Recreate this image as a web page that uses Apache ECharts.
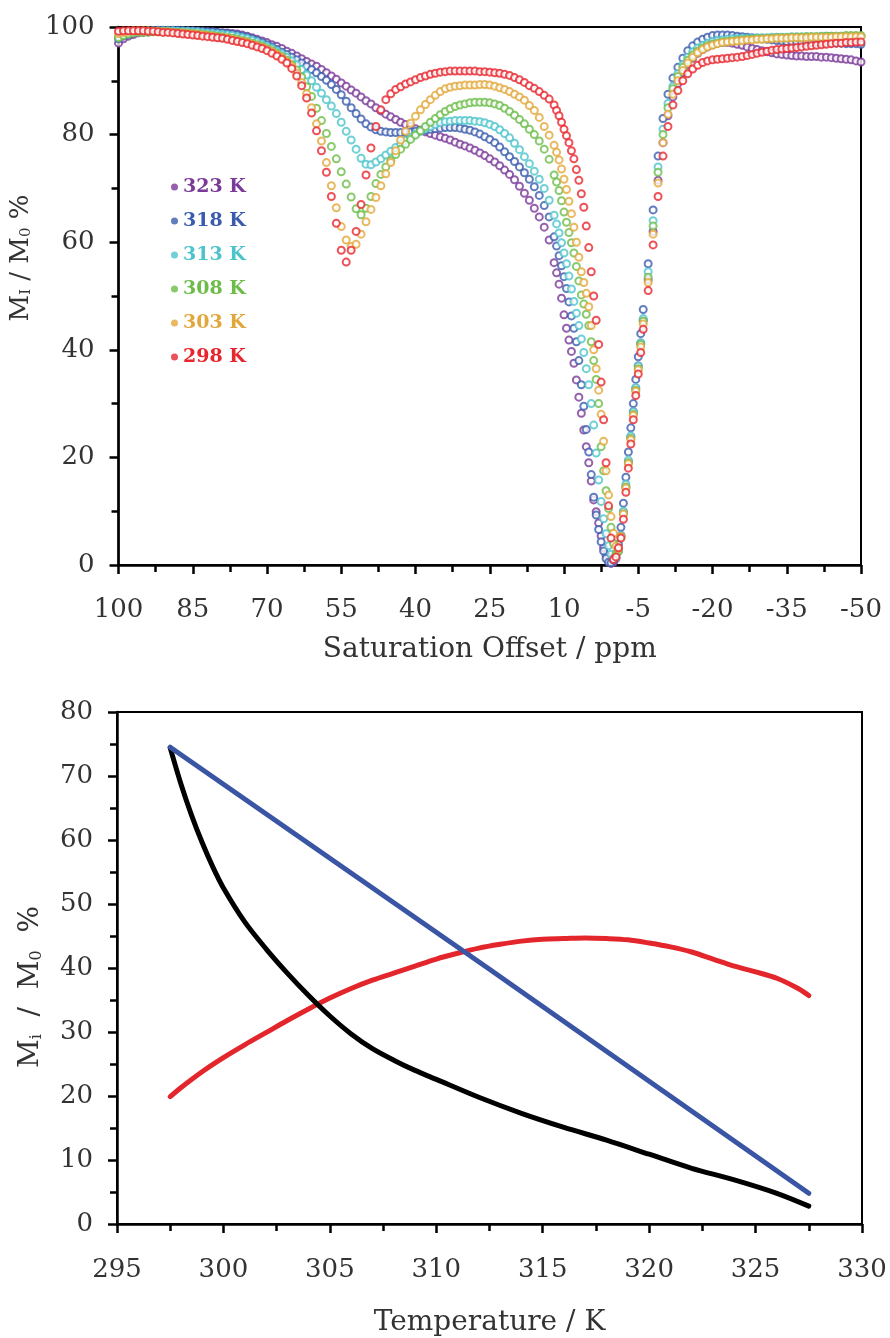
<!DOCTYPE html>
<html>
<head>
<meta charset="utf-8">
<script src="https://cdn.jsdelivr.net/npm/echarts@6/dist/echarts.min.js"></script>
<style>
  html, body { margin: 0; padding: 0; background: #fff; }
  #chart { width: 890px; height: 1338px; }
</style>
</head>
<body>
<div id="chart"></div>
<script>
// ---- top panel: saturation offset (ppm) vs M_I/M_0 (%) ----
const offsetsFlatLeft = [100, 99, 98, 97, 96, 95, 94, 93, 92, 91, 90, 89, 88, 87, 86, 85, 84, 83, 82, 81,
  80, 79, 78, 77, 76, 75, 74, 73, 72, 71, 70, 69, 68, 67, 66, 65, 64, 63, 62, 61,
  60, 59, 58, 57, 56, 55, 54, 53, 52, 51, 50, 49, 48, 47, 46, 45, 44, 43, 42, 41,
  40, 39, 38, 37, 36, 35, 34, 33, 32, 31, 30, 29, 28, 27, 26, 25, 24, 23, 22, 21,
  20, 19, 18, 17, 16, 15, 14, 13]
const offsetsDip = [12, 11.5, 11, 10.5, 10, 9.5, 9, 8.5, 8, 7.5, 7, 6.5, 6, 5.5, 5, 4.5, 4, 3.5, 3, 2.5,
  2, 1.5, 1, 0.5, 0, -0.5, -1, -1.5, -2, -2.5, -3, -3.5, -4, -4.5, -5, -5.5, -6]
const offsetsFlatRight = [-7, -8, -9, -10, -11, -12, -13, -14, -15, -16, -17, -18, -19, -20, -21, -22,
  -23, -24, -25, -26, -27, -28, -29, -30, -31, -32, -33, -34, -35, -36, -37, -38, -39, -40,
  -41, -42, -43, -44, -45, -46, -47, -48, -49, -50]
const offsets = offsetsFlatLeft.concat(offsetsDip, offsetsFlatRight)

const temps = ['323 K', '318 K', '313 K', '308 K', '303 K', '298 K']
const colors = ['#7b3a98', '#3b5cae', '#4cc4cc', '#6cbd48', '#e2a73a', '#e8262e']

const k323 = [
  97.0, 97.8, 98.3, 98.6, 98.9, 99.0, 99.1, 99.2, 99.2, 99.3,
  99.3, 99.3, 99.3, 99.3, 99.2, 99.2, 99.2, 99.1, 99.1, 99.0,
  99.0, 98.9, 98.9, 98.8, 98.7, 98.5, 98.3, 98.0, 97.7, 97.4,
  97.1, 96.7, 96.4, 96.0, 95.5, 95.1, 94.6, 94.1, 93.6, 93.1,
  92.7, 92.1, 91.5, 90.9, 90.3, 89.6, 89.0, 88.3, 87.7, 87.0,
  86.3, 85.7, 85.0, 84.4, 83.8, 83.3, 82.8, 82.3, 81.9, 81.5,
  81.1, 80.8, 80.5, 80.2, 79.9, 79.6, 79.3, 79.0, 78.6, 78.2,
  77.9, 77.5, 77.1, 76.6, 76.1, 75.5, 74.9, 74.2, 73.4, 72.6,
  71.6, 70.4, 69.1, 67.8, 66.3, 64.7, 62.8, 60.4,
  56.2, 54.3, 52.2, 49.6, 46.5, 44.0, 41.8, 39.7, 37.5, 34.4,
  31.2, 28.2, 25.1, 22.0, 19.0, 15.6, 12.1, 9.9, 7.8, 5.4,
  3.2, 1.8, 0.8, 0.3, 0.5, 1.2, 2.6, 5.5, 9.8, 14.5,
  19.2, 23.8, 28.5, 32.8, 37.0, 41.2, 45.5,
  53, 62, 71.5, 78.5, 83.5, 87, 89.5, 91.5, 93, 94.2,
  95.1, 95.8, 96.3, 96.7, 97.0, 97.1, 97.1, 97.0, 96.8, 96.6,
  96.3, 96.0, 95.8, 95.6, 95.4, 95.2, 95.0, 94.9, 94.8, 94.7,
  94.6, 94.6, 94.5, 94.5, 94.5, 94.4, 94.4, 94.3, 94.2, 94.1,
  94.0, 93.9, 93.7, 93.5]
const k318 = [
  97.8, 98.3, 98.6, 98.9, 99.1, 99.2, 99.3, 99.3, 99.4, 99.4,
  99.4, 99.4, 99.4, 99.3, 99.3, 99.3, 99.2, 99.2, 99.1, 99.1,
  99.0, 98.9, 98.8, 98.6, 98.5, 98.3, 98.1, 97.8, 97.5, 97.1,
  96.7, 96.3, 95.8, 95.3, 94.9, 94.4, 93.9, 93.3, 92.7, 92.1,
  91.5, 90.8, 90.1, 89.3, 88.4, 87.4, 86.2, 85.0, 83.9, 82.9,
  82.0, 81.4, 80.9, 80.6, 80.5, 80.4, 80.4, 80.4, 80.4, 80.5,
  80.6, 80.7, 80.8, 81.0, 81.1, 81.2, 81.3, 81.3, 81.3, 81.2,
  81.0, 80.8, 80.5, 80.1, 79.6, 79.1, 78.5, 77.7, 76.8, 75.9,
  75.0, 74.0, 72.9, 71.7, 70.3, 68.7, 66.8, 64.7,
  61.0, 59.3, 57.5, 55.6, 53.6, 51.4, 48.9, 46.3, 44.0, 41.5,
  38.0, 33.5, 29.5, 25.2, 21.0, 16.8, 12.6, 9.3, 6.6, 4.3,
  2.6, 1.2, 0.5, 0.4, 0.9, 2.0, 3.8, 7.0, 11.5, 16.3,
  21.0, 25.5, 30.0, 34.5, 38.7, 43.0, 47.5,
  56, 66, 76, 83, 87.5, 90.5, 92.5, 94.2, 95.6, 96.5,
  97.2, 97.7, 98.1, 98.4, 98.5, 98.5, 98.5, 98.4, 98.3, 98.2,
  98.1, 98.0, 97.9, 97.8, 97.7, 97.6, 97.5, 97.4, 97.3, 97.3,
  97.2, 97.2, 97.2, 97.1, 97.1, 97.1, 97.0, 97.0, 97.0, 97.0,
  96.9, 96.9, 96.9, 96.8]
const k313 = [
  98.3, 98.6, 98.8, 99.0, 99.1, 99.2, 99.2, 99.3, 99.3, 99.3,
  99.3, 99.3, 99.2, 99.2, 99.2, 99.1, 99.1, 99.0, 98.9, 98.8,
  98.7, 98.6, 98.5, 98.4, 98.2, 98.0, 97.8, 97.5, 97.2, 96.8,
  96.4, 96.0, 95.5, 95.0, 94.4, 93.7, 93.0, 92.1, 91.1, 90.0,
  88.8, 87.7, 86.5, 85.3, 83.9, 82.3, 80.6, 79.0, 77.3, 75.6,
  74.5, 74.4, 74.9, 75.5, 76.2, 76.9, 77.6, 78.3, 78.9, 79.5,
  80.1, 80.6, 81.1, 81.5, 81.9, 82.2, 82.4, 82.5, 82.6, 82.6,
  82.6, 82.6, 82.5, 82.4, 82.2, 81.9, 81.5, 80.9, 80.2, 79.4,
  78.4, 77.2, 75.9, 74.6, 73.2, 71.7, 70.0, 67.8,
  65.0, 63.4, 61.7, 59.9, 58.0, 56.0, 53.7, 51.3, 49.0, 46.8,
  44.5, 42.0, 39.5, 36.5, 33.5, 30.0, 26.0, 20.8, 15.8, 11.8,
  8.6, 5.8, 3.6, 2.0, 1.2, 1.4, 2.8, 5.5, 10.0, 15.0,
  19.5, 24.0, 28.5, 33.0, 37.0, 41.3, 45.8,
  54.5, 64, 74, 81, 85.8, 89, 91.3, 93, 94.4, 95.4,
  96.1, 96.6, 97.0, 97.3, 97.5, 97.6, 97.7, 97.8, 97.8, 97.9,
  97.9, 97.9, 98.0, 98.0, 98.0, 98.1, 98.1, 98.1, 98.1, 98.2,
  98.2, 98.2, 98.2, 98.2, 98.2, 98.3, 98.3, 98.3, 98.3, 98.3,
  98.3, 98.3, 98.3, 98.3]
const k308 = [
  98.0, 98.4, 98.7, 98.9, 99.0, 99.0, 99.0, 99.1, 99.1, 99.1,
  99.1, 99.0, 99.0, 98.9, 98.9, 98.8, 98.7, 98.6, 98.5, 98.4,
  98.3, 98.2, 98.0, 97.9, 97.7, 97.5, 97.3, 97.0, 96.7, 96.4,
  96.0, 95.6, 95.1, 94.5, 93.8, 93.0, 92.0, 90.7, 88.9, 87.1,
  84.9, 82.6, 80.2, 77.8, 75.5, 73.1, 70.8, 68.4, 66.2, 65.1,
  66.3, 68.5, 70.9, 72.6, 74.0, 75.2, 76.3, 77.3, 78.2, 79.1,
  79.9, 80.7, 81.5, 82.3, 83.0, 83.7, 84.3, 84.8, 85.2, 85.5,
  85.7, 85.9, 86.0, 86.0, 86.0, 85.9, 85.7, 85.4, 84.9, 84.3,
  83.6, 82.8, 82.0, 81.0, 80.0, 78.8, 77.3, 75.4,
  72.5, 71.2, 69.6, 67.7, 65.6, 63.7, 61.8, 59.9, 58.0, 55.5,
  52.8, 50.2, 48.5, 46.6, 44.5, 41.5, 38.0, 34.5, 30.0, 22.0,
  17.5, 13.8, 10.5, 7.0, 4.0, 2.0, 2.6, 5.2, 9.5, 14.5,
  19.0, 23.5, 28.0, 32.5, 36.5, 41.0, 45.3,
  53.5, 63, 73, 80, 85, 88.5, 90.8, 92.5, 93.8, 94.8,
  95.5, 96.1, 96.5, 96.8, 97.0, 97.2, 97.3, 97.4, 97.5, 97.6,
  97.7, 97.7, 97.8, 97.8, 97.9, 97.9, 98.0, 98.0, 98.0, 98.1,
  98.1, 98.1, 98.2, 98.2, 98.2, 98.2, 98.3, 98.3, 98.3, 98.3,
  98.4, 98.4, 98.4, 98.4]
const k303 = [
  98.8, 99.0, 99.2, 99.3, 99.3, 99.3, 99.3, 99.2, 99.2, 99.1,
  99.1, 99.0, 98.9, 98.9, 98.8, 98.7, 98.6, 98.5, 98.4, 98.3,
  98.1, 98.0, 97.9, 97.7, 97.5, 97.3, 97.1, 96.8, 96.5, 96.2,
  95.8, 95.4, 94.9, 94.3, 93.6, 92.7, 91.4, 89.7, 87.6, 85.0,
  82.0, 78.8, 74.8, 70.5, 66.4, 62.9, 60.4, 59.2, 59.6, 61.5,
  63.8, 66.1, 68.3, 70.5, 72.7, 74.8, 77.0, 79.0, 80.6, 82.1,
  83.4, 84.6, 85.6, 86.5, 87.3, 88.0, 88.5, 88.8, 89.0, 89.1,
  89.2, 89.2, 89.2, 89.3, 89.3, 89.2, 89.0, 88.7, 88.4, 88.0,
  87.5, 87.0, 86.4, 85.4, 84.5, 83.2, 81.5, 79.9,
  78.0, 76.7, 75.3, 73.6, 71.7, 69.8, 67.6, 65.3, 62.8, 60.0,
  57.2, 54.5, 52.5, 50.5, 48.0, 44.5, 40.0, 36.5, 32.5, 28.0,
  23.0, 17.5, 13.0, 9.0, 5.9, 3.5, 3.0, 5.3, 9.5, 14.3,
  18.8, 23.3, 27.8, 32.3, 36.3, 40.5, 44.8,
  52.5, 61.5, 71, 78.5, 83.8, 87.5, 90, 91.9, 93.3, 94.4,
  95.2, 95.8, 96.3, 96.6, 96.9, 97.1, 97.2, 97.3, 97.4, 97.5,
  97.6, 97.6, 97.7, 97.7, 97.8, 97.8, 97.9, 97.9, 97.9, 98.0,
  98.0, 98.0, 98.0, 98.1, 98.1, 98.1, 98.1, 98.1, 98.2, 98.2,
  98.2, 98.2, 98.2, 98.2]
const k298 = [
  99.2, 99.3, 99.3, 99.3, 99.3, 99.3, 99.2, 99.2, 99.1, 99.0,
  99.0, 98.9, 98.8, 98.7, 98.6, 98.5, 98.4, 98.3, 98.2, 98.1,
  98.0, 97.9, 97.7, 97.5, 97.3, 97.1, 96.9, 96.6, 96.3, 96.0,
  95.6, 95.1, 94.6, 94.0, 93.3, 92.3, 90.9, 89.1, 86.8, 84.0,
  80.7, 77.0, 73.0, 68.5, 63.5, 58.5, 56.3, 58.5, 62.0, 67.0,
  72.5, 77.5, 81.5, 84.6, 86.5, 87.6, 88.4, 88.9, 89.4, 89.8,
  90.2, 90.6, 90.9, 91.2, 91.4, 91.6, 91.7, 91.8, 91.8, 91.8,
  91.8, 91.8, 91.8, 91.7, 91.7, 91.6, 91.5, 91.4, 91.2, 91.0,
  90.6, 90.2, 89.7, 89.1, 88.6, 88.0, 87.3, 86.6,
  85.5, 84.5, 83.5, 82.3, 81.0, 79.8, 78.5, 77.0, 75.5, 73.5,
  71.5, 69.0, 66.5, 63.0, 59.0, 54.5, 50.0, 45.5, 41.0, 34.0,
  27.0, 19.0, 11.0, 5.0, 1.0, 1.5, 3.2, 5.0, 8.5, 13.5,
  18.0, 22.5, 27.0, 31.5, 35.5, 39.5, 43.8,
  51, 59.5, 68.5, 76, 81.5, 85.5, 88.2, 90.0, 91.3, 92.2,
  92.9, 93.4, 93.7, 93.9, 94.0, 94.1, 94.2, 94.3, 94.4, 94.5,
  94.7, 94.9, 95.1, 95.3, 95.5, 95.7, 95.8, 95.9, 96.0, 96.1,
  96.2, 96.3, 96.4, 96.5, 96.6, 96.7, 96.8, 96.9, 97.0, 97.0,
  97.1, 97.1, 97.2, 97.2]
const ratios = [k323, k318, k313, k308, k303, k298]

// ---- bottom panel: temperature (K) vs M_i/M_0 (%) ----
const tempBlack = [297.5, 298, 298.5, 299, 299.5, 300, 301, 302, 303, 304, 305, 306, 307, 308, 309, 310,
  312, 314, 316, 318, 320, 322, 324, 326, 327.5]
const fracBlack = [74.4, 68.8, 63.9, 59.6, 55.8, 52.5, 47.2, 43.0, 39.2, 35.7, 32.5, 29.7, 27.4, 25.6, 24.0, 22.6,
  19.8, 17.3, 15.1, 13.1, 10.9, 8.7, 6.9, 4.8, 2.8]
const tempRed = [297.5, 298, 299, 300, 301, 302, 303, 304, 305, 306, 307, 308, 309, 310, 311, 312, 313, 314,
  315, 316, 317, 318, 319, 320, 321, 322, 323, 324, 325, 326, 327, 327.5]
const fracRed = [19.9, 21.3, 23.8, 26.0, 28.0, 29.9, 31.8, 33.6, 35.3, 36.8, 38.1, 39.2, 40.3, 41.4, 42.3, 43.1, 43.7, 44.2,
  44.5, 44.6, 44.7, 44.6, 44.4, 43.9, 43.3, 42.5, 41.4, 40.3, 39.4, 38.4, 36.8, 35.7]
const tempBlue = [297.5, 312.5, 327.5]
const fracBlue = [74.5, 39.8, 4.8]

const font = 'DejaVu Serif'
const textColor = '#333'

function zip(xs, ys) {
  return xs.map((x, i) => [x, ys[i]])
}

function boxAxis(extra) {
  return Object.assign({
    type: 'value',
    splitLine: { show: false },
    axisLine: { show: true, onZero: false, lineStyle: { color: '#000', width: 2.5 } },
    axisTick: { show: true, length: 9, lineStyle: { color: '#000', width: 2.5 } },
    minorTick: { show: true, splitNumber: 2, length: 7, lineStyle: { color: '#000', width: 2.5 } },
    nameLocation: 'middle'
  }, extra)
}

const chart = echarts.init(document.getElementById('chart'), null, { renderer: 'canvas' })

const scatterSeries = temps.map((name, i) => ({
  type: 'scatter',
  name: name,
  xAxisIndex: 0,
  yAxisIndex: 0,
  data: zip(offsets, ratios[i]),
  symbol: 'emptyCircle',
  symbolSize: 7,
  itemStyle: { color: colors[i], borderWidth: 2 },
  emphasis: { disabled: true }
}))

chart.setOption({
  animation: false,
  backgroundColor: '#fff',
  grid: [
    { left: 117, right: 29, top: 27, height: 538, show: true, borderColor: '#000', borderWidth: 2 },
    { left: 117, right: 28, top: 712, height: 514, show: true, borderColor: '#000', borderWidth: 2 }
  ],
  legend: {
    data: temps.map((t, i) => ({ name: t, textStyle: { color: colors[i] } })),
    orient: 'vertical',
    left: 166,
    top: 172,
    icon: 'circle',
    itemWidth: 7,
    itemHeight: 7,
    itemGap: 14,
    selectedMode: false,
    textStyle: { fontFamily: font, fontSize: 19, fontWeight: 'bold', lineHeight: 20 }
  },
  xAxis: [
    boxAxis({
      gridIndex: 0, inverse: true, min: -50, max: 100, interval: 15,
      axisLabel: { margin: 32, fontSize: 26, fontFamily: font, color: textColor },
      name: 'Saturation Offset / ppm', nameGap: 71,
      nameTextStyle: { fontSize: 28, fontFamily: font, color: textColor }
    }),
    boxAxis({
      gridIndex: 1, min: 295, max: 330, interval: 5,
      axisLabel: { margin: 33, fontSize: 26, fontFamily: font, color: textColor },
      name: 'Temperature / K', nameGap: 85,
      nameTextStyle: { fontSize: 28, fontFamily: font, color: textColor }
    })
  ],
  yAxis: [
    boxAxis({
      gridIndex: 0, min: 0, max: 100, interval: 20,
      axisLabel: { margin: 24, fontSize: 26, fontFamily: font, color: textColor },
      name: 'M{s|I} / M{s|0} %', nameGap: 72,
      nameTextStyle: {
        fontSize: 26, fontFamily: font, color: textColor, padding: [0, 0, 0, 76],
        rich: { s: { fontSize: 15, fontFamily: font, color: textColor, verticalAlign: 'bottom' } }
      }
    }),
    boxAxis({
      gridIndex: 1, min: 0, max: 80, interval: 10,
      axisLabel: { margin: 24, fontSize: 26, fontFamily: font, color: textColor },
      name: 'M{s|i}  /  M{s|0}  %', nameGap: 72,
      nameTextStyle: {
        fontSize: 28, fontFamily: font, color: textColor, padding: [0, 38, 0, 0],
        rich: { s: { fontSize: 16, fontFamily: font, color: textColor, verticalAlign: 'bottom' } }
      }
    })
  ],
  series: scatterSeries.concat([
    {
      type: 'line', name: 'red', xAxisIndex: 1, yAxisIndex: 1,
      data: zip(tempRed, fracRed), smooth: 0.3, showSymbol: false,
      lineStyle: { color: '#e3262b', width: 5, cap: 'round' }
    },
    {
      type: 'line', name: 'black', xAxisIndex: 1, yAxisIndex: 1,
      data: zip(tempBlack, fracBlack), smooth: 0.3, showSymbol: false,
      lineStyle: { color: '#000', width: 5, cap: 'round' }
    },
    {
      type: 'line', name: 'blue', xAxisIndex: 1, yAxisIndex: 1,
      data: zip(tempBlue, fracBlue), showSymbol: false,
      lineStyle: { color: '#3b55a5', width: 5, cap: 'round' }
    }
  ])
})
</script>
</body>
</html>
